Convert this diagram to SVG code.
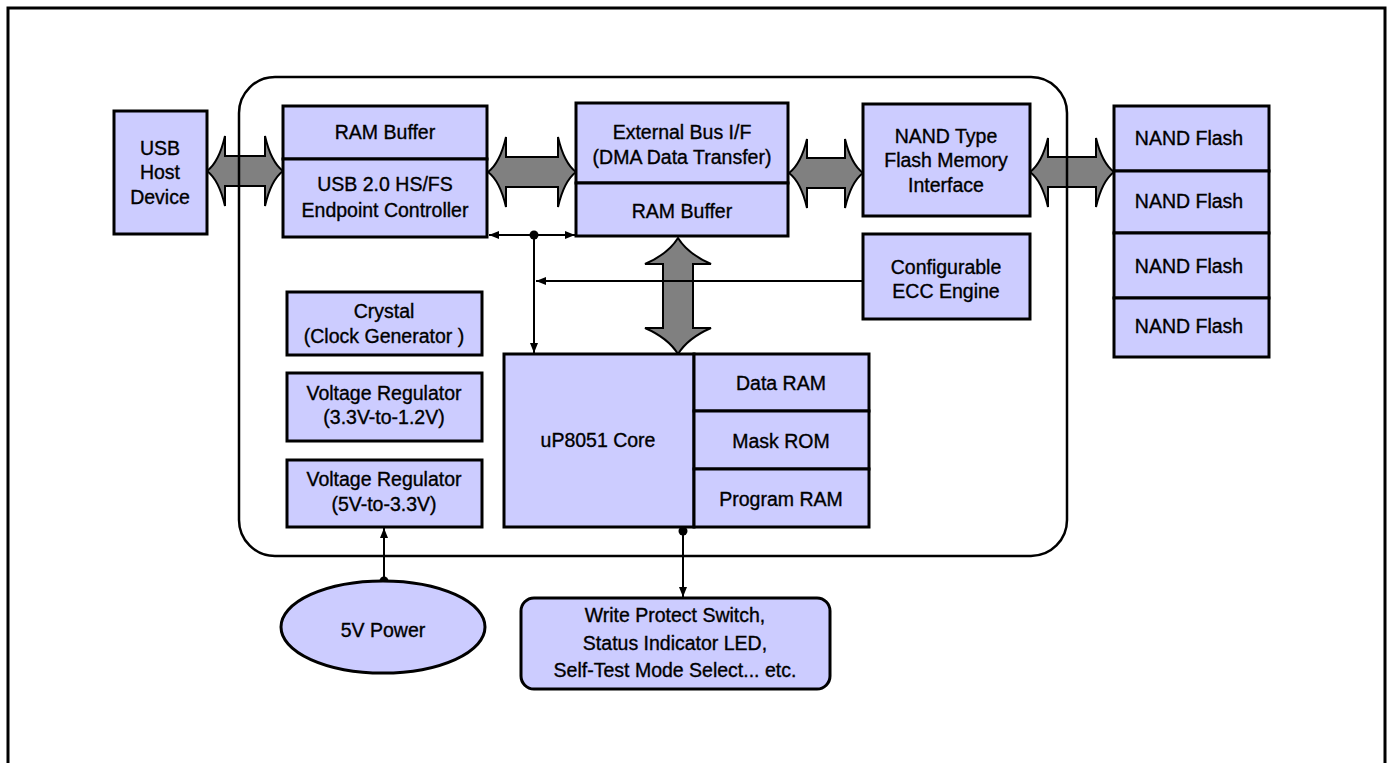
<svg xmlns="http://www.w3.org/2000/svg" width="1392" height="763" viewBox="0 0 1392 763">
<style>
.box{fill:#ccccff;stroke:#000;stroke-width:3}
.big{fill:#808080;stroke:#000;stroke-width:2;stroke-linejoin:miter}
.ln{fill:none;stroke:#000;stroke-width:2}
.t{font-family:"Liberation Sans",Arial,sans-serif;font-size:19.5px;fill:#000;stroke:#000;stroke-width:0.35;text-anchor:middle}
</style>
<defs>
<marker id="ah" viewBox="0 0 10 10" refX="10" refY="5" markerWidth="10" markerHeight="10" markerUnits="userSpaceOnUse" orient="auto-start-reverse">
<path d="M0,1 L10,5 L0,9 z" fill="#000"/>
</marker>
</defs>
<rect width="1392" height="763" fill="#fff"/>
<path d="M8,775 V8 H1385 V775" fill="none" stroke="#000" stroke-width="3"/>

<g id="connectors">
<path class="big" d="M207,171 Q219,162 225,136 V156 H265 V136 Q271,162 283,171 Q271,180 265,206 V186 H225 V206 Q219,180 207,171 Z"/>
<path class="big" d="M488,172 Q500,163 506,137 V157 H558 V137 Q564,163 576,172 Q564,181 558,207 V187 H506 V207 Q500,181 488,172 Z"/>
<path class="big" d="M789,173 Q801,164 807,139 V158 H845 V139 Q851,164 863,173 Q851,182 845,208 V188 H807 V208 Q801,182 789,173 Z"/>
<path class="big" d="M1030,172 Q1042,163 1048,138 V157 H1096 V138 Q1102,163 1114,172 Q1102,181 1096,207 V187 H1048 V207 Q1042,181 1030,172 Z"/>
<path class="big" d="M678,238 Q688,254 711,264 H693 V328 H711 Q688,338 678,354 Q668,338 645,328 H663 V264 H645 Q668,254 678,238 Z"/>
<line class="ln" x1="489" y1="235" x2="575" y2="235" marker-start="url(#ah)" marker-end="url(#ah)"/>
<circle cx="534" cy="235" r="4.5" fill="#000"/>
<line class="ln" x1="534" y1="235" x2="534" y2="353" marker-end="url(#ah)"/>
<line class="ln" x1="863" y1="281" x2="536" y2="281" marker-end="url(#ah)"/>
<line class="ln" x1="384" y1="581" x2="384" y2="528" marker-end="url(#ah)"/>
<circle cx="384" cy="581" r="4.5" fill="#000"/>
<line class="ln" x1="683" y1="530" x2="683" y2="597" marker-end="url(#ah)"/>
<circle cx="683" cy="531" r="4.5" fill="#000"/>
</g>

<rect id="chip" x="239" y="77" width="828" height="479" rx="36" fill="none" stroke="#000" stroke-width="2.5"/>

<g id="usb-host">
<rect class="box" x="114" y="111" width="93" height="123"/>
<text class="t" x="160" y="155">USB</text>
<text class="t" x="160" y="179">Host</text>
<text class="t" x="160" y="204">Device</text>
</g>
<g id="ram-buffer-1">
<rect class="box" x="283" y="106" width="204" height="53"/>
<text class="t" x="385" y="139">RAM Buffer</text>
</g>
<g id="usb-ctrl">
<rect class="box" x="283" y="159" width="204" height="78"/>
<text class="t" x="385" y="191">USB 2.0 HS/FS</text>
<text class="t" x="385" y="217">Endpoint Controller</text>
</g>
<g id="ext-bus">
<rect class="box" x="576" y="103" width="212" height="80"/>
<text class="t" x="682" y="139">External Bus I/F</text>
<text class="t" x="682" y="164">(DMA Data Transfer)</text>
</g>
<g id="ram-buffer-2">
<rect class="box" x="576" y="183" width="212" height="53"/>
<text class="t" x="682" y="218">RAM Buffer</text>
</g>
<g id="nand-if">
<rect class="box" x="863" y="104" width="167" height="112"/>
<text class="t" x="946" y="143">NAND Type</text>
<text class="t" x="946" y="167">Flash Memory</text>
<text class="t" x="946" y="192">Interface</text>
</g>
<g id="ecc">
<rect class="box" x="863" y="234" width="167" height="85"/>
<text class="t" x="946" y="274">Configurable</text>
<text class="t" x="946" y="298">ECC Engine</text>
</g>
<g id="nand-1">
<rect class="box" x="1114" y="106" width="155" height="65"/>
<text class="t" x="1189" y="145">NAND Flash</text>
</g>
<g id="nand-2">
<rect class="box" x="1114" y="171" width="155" height="62"/>
<text class="t" x="1189" y="208">NAND Flash</text>
</g>
<g id="nand-3">
<rect class="box" x="1114" y="233" width="155" height="65"/>
<text class="t" x="1189" y="273">NAND Flash</text>
</g>
<g id="nand-4">
<rect class="box" x="1114" y="298" width="155" height="59"/>
<text class="t" x="1189" y="333">NAND Flash</text>
</g>
<g id="crystal">
<rect class="box" x="287" y="292" width="195" height="63"/>
<text class="t" x="384" y="318">Crystal</text>
<text class="t" x="384" y="343">(Clock Generator )</text>
</g>
<g id="vreg-1">
<rect class="box" x="287" y="373" width="195" height="68"/>
<text class="t" x="384" y="400">Voltage Regulator</text>
<text class="t" x="384" y="424">(3.3V-to-1.2V)</text>
</g>
<g id="vreg-2">
<rect class="box" x="287" y="460" width="195" height="67"/>
<text class="t" x="384" y="486">Voltage Regulator</text>
<text class="t" x="384" y="511">(5V-to-3.3V)</text>
</g>
<g id="core">
<rect class="box" x="504" y="354" width="190" height="173"/>
<text class="t" x="598" y="447">uP8051 Core</text>
</g>
<g id="data-ram">
<rect class="box" x="694" y="354" width="175" height="57"/>
<text class="t" x="781" y="390">Data RAM</text>
</g>
<g id="mask-rom">
<rect class="box" x="694" y="411" width="175" height="58"/>
<text class="t" x="781" y="448">Mask ROM</text>
</g>
<g id="program-ram">
<rect class="box" x="694" y="469" width="175" height="58"/>
<text class="t" x="781" y="506">Program RAM</text>
</g>
<g id="power">
<ellipse class="box" cx="383" cy="627" rx="102" ry="46"/>
<text class="t" x="383" y="637">5V Power</text>
</g>
<g id="io">
<rect class="box" x="521" y="598" width="309" height="91" rx="13"/>
<text class="t" x="675" y="622">Write Protect Switch,</text>
<text class="t" x="675" y="650">Status Indicator LED,</text>
<text class="t" x="675" y="677">Self-Test Mode Select... etc.</text>
</g>
</svg>
